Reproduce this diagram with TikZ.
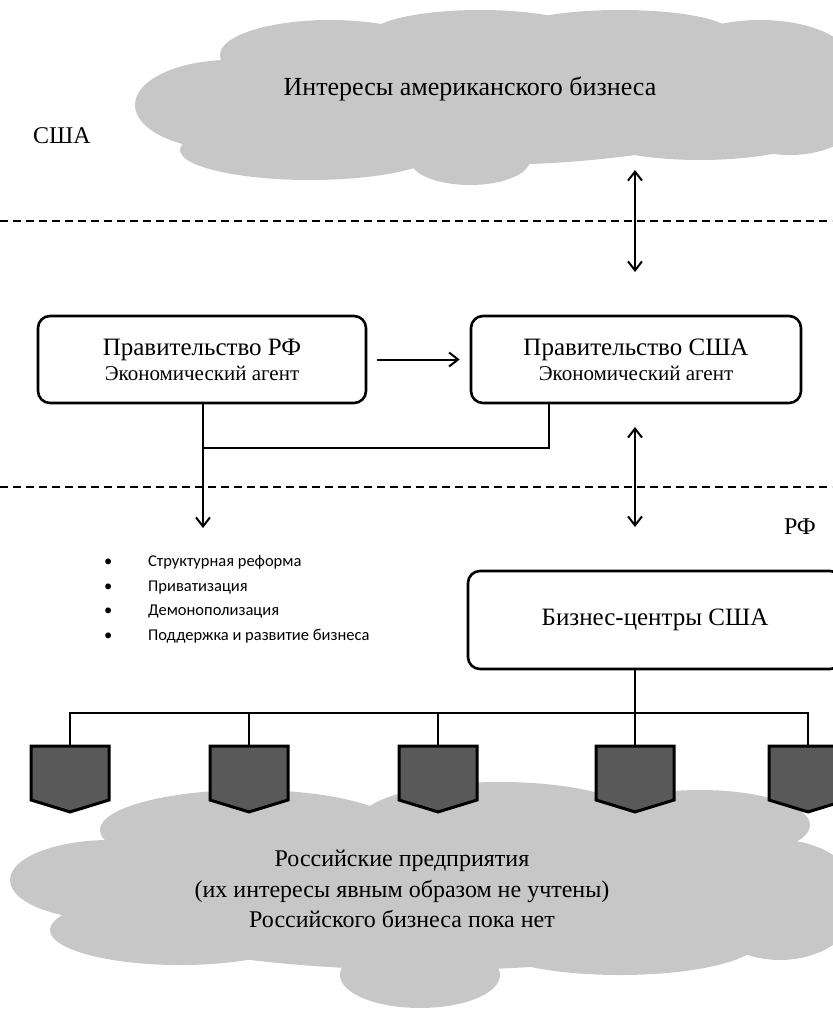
\documentclass[tikz,border=0pt]{standalone}
\usepackage{fontspec}
\setmainfont{Liberation Serif}
\newfontfamily\listfont{Carlito}
\usetikzlibrary{arrows.meta,shapes.symbols}

\colorlet{cloud color}{black!22}
\colorlet{firm color}{black!65}
\tikzset{
    x={1pt},
    y={-1pt},
    cloud part/.style={
        fill=cloud color,
        draw=none,
    },
    border line/.style={
        dash pattern=on 8pt off 5pt,
        line width={1.3pt},
    },
    agent box/.style={
        draw, line width={2.6pt},
        rounded corners=12pt,
        align=center,
        inner sep=0pt,
    },
    big text/.style={
        font={\fontsize{24}{30.5}\selectfont},
    },
    agent text/.style={
        font={\fontsize{25}{25}\selectfont},
    },
    link/.style={
        line width={2pt},
    },
    flow/.style={
        link,
        -{Straight Barb[length=9pt,width=14pt,line width=2pt]},
    },
    both flow/.style={
        link,
        {Straight Barb[length=9pt,width=14pt,line width=2pt]}-{Straight Barb[length=9pt,width=14pt,line width=2pt]},
    },
    firm/.style={
        signal, signal to=south,
        signal pointer angle=146,
        fill=firm color, draw=black,
        line width={3pt},
        minimum width={78pt},
        minimum height={54pt},
        inner sep=0pt,
    },
}

\begin{document}
\begin{tikzpicture}
\useasboundingbox (0,0) rectangle (832,1011);
% clouds
\path[cloud part] (480,95) ellipse [x radius=300, y radius=70];
\path[cloud part] (230,105) ellipse [x radius=95, y radius=45];
\path[cloud part] (330,55) ellipse [x radius=110, y radius=35];
\path[cloud part] (480,35) ellipse [x radius=110, y radius=25];
\path[cloud part] (620,32) ellipse [x radius=110, y radius=22];
\path[cloud part] (760,60) ellipse [x radius=90, y radius=40];
\path[cloud part] (790,115) ellipse [x radius=70, y radius=40];
\path[cloud part] (700,135) ellipse [x radius=110, y radius=25];
\path[cloud part] (470,160) ellipse [x radius=60, y radius=25];
\path[cloud part] (310,150) ellipse [x radius=130, y radius=30];
\path[cloud part] (430,890) ellipse [x radius=370, y radius=80];
\path[cloud part] (110,880) ellipse [x radius=100, y radius=40];
\path[cloud part] (180,930) ellipse [x radius=130, y radius=35];
\path[cloud part] (420,975) ellipse [x radius=80, y radius=33];
\path[cloud part] (620,940) ellipse [x radius=140, y radius=35];
\path[cloud part] (780,900) ellipse [x radius=80, y radius=60];
\path[cloud part] (250,830) ellipse [x radius=150, y radius=40];
\path[cloud part] (500,820) ellipse [x radius=140, y radius=38];
\path[cloud part] (700,825) ellipse [x radius=110, y radius=35];
% borders
\draw[border line] (0,221) -- (832,221);
\draw[border line] (0,487) -- (832,487);
% texts
\node[font={\fontsize{26}{30}\selectfont}] (usint) at (470,89) {Интересы американского бизнеса};
\node[big text] (usa) at (62,136) {США};
\node[big text] (rf) at (800,527) {РФ};
\node[big text, align=center] (rusent) at (402,889) {Российские предприятия\\(их интересы явным образом не учтены)\\Российского бизнеса пока нет};
% agents
\node[agent box, agent text, minimum width=328pt, minimum height=87pt] (govRF) at (202,359.5)
    {Правительство РФ\\{\fontsize{21}{25}\selectfont Экономический агент}};
\node[agent box, agent text, minimum width=330pt, minimum height=87pt] (govUS) at (636,359.5)
    {Правительство США\\{\fontsize{21}{25}\selectfont Экономический агент}};
\node[agent box, font={\fontsize{25}{30}\selectfont}, minimum width=374pt, minimum height=98pt] (bizUS) at (655,620) {Бизнес-центры США};
% measures
\node[anchor=north west, align=left, inner sep=0pt, font={\listfont\fontsize{16.5}{24.7}\selectfont}] (measures) at (104,555)
    {\makebox[44pt][l]{•}Структурная реформа\\
     \makebox[44pt][l]{•}Приватизация\\
     \makebox[44pt][l]{•}Демонополизация\\
     \makebox[44pt][l]{•}Поддержка и развитие бизнеса};
% links
\coordinate (upA) at (635,170);
\coordinate (upB) at (635,272);
\coordinate (downA) at (635,427);
\coordinate (downB) at (635,527);
\coordinate (joint) at (0,448);
\coordinate (rfout) at (203,528);
\draw[both flow] (upA) -- (upB);
\draw[both flow] (downA) -- (downB);
\draw[flow] ([xshift=10pt]govRF.east) -- ([xshift=-10pt]govUS.west);
\draw[flow] (govRF.south -| rfout) -- (rfout);
\draw[link] (govUS.south -| 549,0) |- (joint -| rfout);
% firms
\foreach \i/\x in {1/70,2/249,3/438,4/635,5/808}
    \node[firm] (f\i) at (\x,773) {};
\coordinate (bus) at (0,713);
\draw[link] (f4.north |- bizUS.south) -- (f4.north);
\draw[link] (f1.north) |- (f5.north |- bus) -- (f5.north);
\foreach \i in {2,3}
    \draw[link] (f\i.north) -- (f\i.north |- bus);
\end{tikzpicture}
\end{document}
